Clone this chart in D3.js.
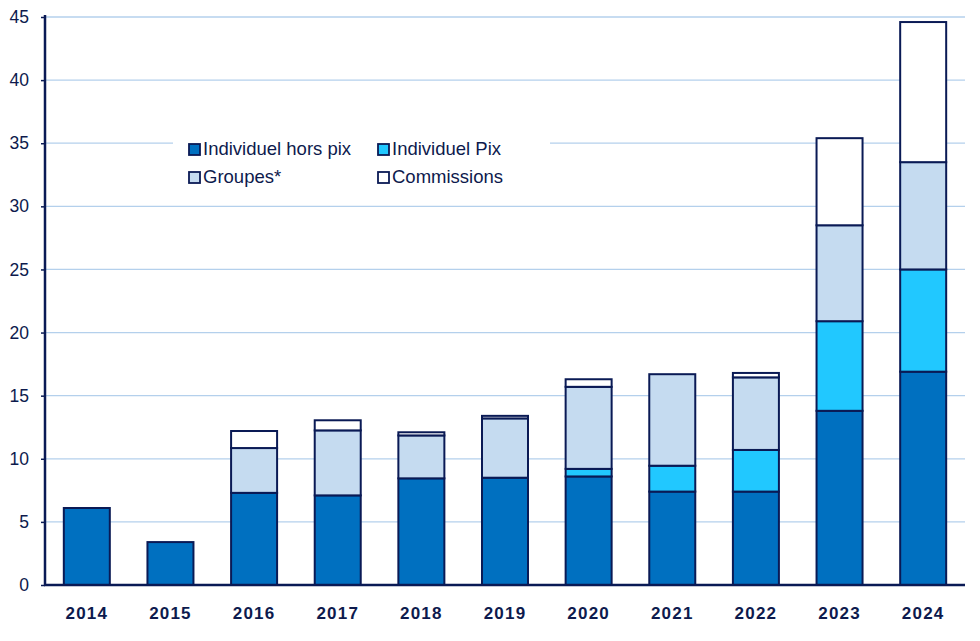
<!DOCTYPE html>
<html>
<head>
<meta charset="utf-8">
<script src="https://cdn.jsdelivr.net/npm/d3@7.9.0/dist/d3.min.js"></script>
<style>
  body { margin: 0; background: #fff; }
  svg text { font-family: "Liberation Sans", Arial, sans-serif; fill: #0d1a4d; }
</style>
</head>
<body>
<svg id="chart" width="980" height="641"></svg>
<script>
const years = ['2014','2015','2016','2017','2018','2019','2020','2021','2022','2023','2024'];
const horsPix     = [6.1, 3.4, 7.3, 7.1, 8.45, 8.5, 8.6, 7.4, 7.4, 13.8, 16.9];
const pix         = [0,   0,   0,   0,   0,    0,   0.6, 2.05, 3.3, 7.1, 8.1];
const groupes     = [0,   0,   3.55, 5.15, 3.4, 4.7, 6.5, 7.25, 5.75, 7.6, 8.5];
const commissions = [0,   0,   1.35, 0.8, 0.25, 0.2, 0.6, 0,   0.35, 6.9, 11.1];
const seriesNames = ['Individuel hors pix', 'Individuel Pix', 'Groupes*', 'Commissions'];
const yTicks = [0, 5, 10, 15, 20, 25, 30, 35, 40, 45];

const colors = ['#0070c0', '#21c8ff', '#c5dbf0', '#ffffff'];
const ink = '#0a1a55';

const rows = years.map((y, i) => ({
  year: y,
  [seriesNames[0]]: horsPix[i],
  [seriesNames[1]]: pix[i],
  [seriesNames[2]]: groupes[i],
  [seriesNames[3]]: commissions[i]
}));

const svg = d3.select('#chart');
const x = d3.scaleBand().domain(years).range([45, 965]).paddingInner(0.45).paddingOuter(0.225);
const y = d3.scaleLinear().domain([0, 45]).range([585, 17]);

// gridlines
svg.append('g')
  .selectAll('line')
  .data(yTicks.filter(d => d > 0))
  .join('line')
    .attr('x1', 45).attr('x2', 965)
    .attr('y1', d => y(d)).attr('y2', d => y(d))
    .attr('stroke', '#b4d0ec').attr('stroke-width', 1.3);

// legend background hides part of a gridline
svg.append('rect')
  .attr('x', 173).attr('y', 130).attr('width', 377).attr('height', 62)
  .attr('fill', '#fff');

// bars
const stacked = d3.stack().keys(seriesNames)(rows);
svg.append('g')
  .selectAll('g')
  .data(stacked)
  .join('g')
    .attr('fill', (_, i) => colors[i])
  .selectAll('rect')
  .data(d => d.filter(s => s[1] - s[0] > 0))
  .join('rect')
    .attr('x', d => x(d.data.year))
    .attr('width', x.bandwidth())
    .attr('y', d => y(d[1]))
    .attr('height', d => y(d[0]) - y(d[1]))
    .attr('stroke', ink)
    .attr('stroke-width', 2);

// y axis
const yAxis = svg.append('g')
  .attr('transform', 'translate(45,0)')
  .call(d3.axisLeft(y).tickValues(yTicks).tickSize(4).tickPadding(12));
yAxis.select('.domain').attr('stroke', ink).attr('stroke-width', 2.5).attr('d', `M0,${y(45) - 2}V${y(0)}`);
yAxis.selectAll('.tick line').attr('stroke', ink).attr('stroke-width', 1.5);
yAxis.selectAll('.tick text').attr('font-size', 17.5).attr('fill', ink)
  .attr('font-family', '"Liberation Sans", Arial, sans-serif');

// x axis
const xAxis = svg.append('g')
  .attr('transform', `translate(0,${y(0)})`)
  .call(d3.axisBottom(x).tickSize(0).tickPadding(22));
xAxis.select('.domain').attr('stroke', ink).attr('stroke-width', 2.5).attr('d', 'M44,0H965');
xAxis.selectAll('.tick text').attr('font-size', 17).attr('font-weight', 'bold').attr('fill', ink)
  .attr('letter-spacing', 1.2)
  .attr('font-family', '"Liberation Sans", Arial, sans-serif');

// legend
const legendPos = [[188, 155], [377, 155], [188, 183], [377, 183]];
const legend = svg.append('g')
  .selectAll('g')
  .data(seriesNames)
  .join('g')
    .attr('transform', (_, i) => `translate(${legendPos[i][0]},${legendPos[i][1]})`);
legend.append('rect')
  .attr('x', 1).attr('y', -11).attr('width', 11).attr('height', 11)
  .attr('fill', (_, i) => colors[i]).attr('stroke', ink).attr('stroke-width', 1.8);
legend.append('text')
  .attr('x', 15).attr('y', 0)
  .attr('font-size', 18.5)
  .text(d => d);
</script>
</body>
</html>
